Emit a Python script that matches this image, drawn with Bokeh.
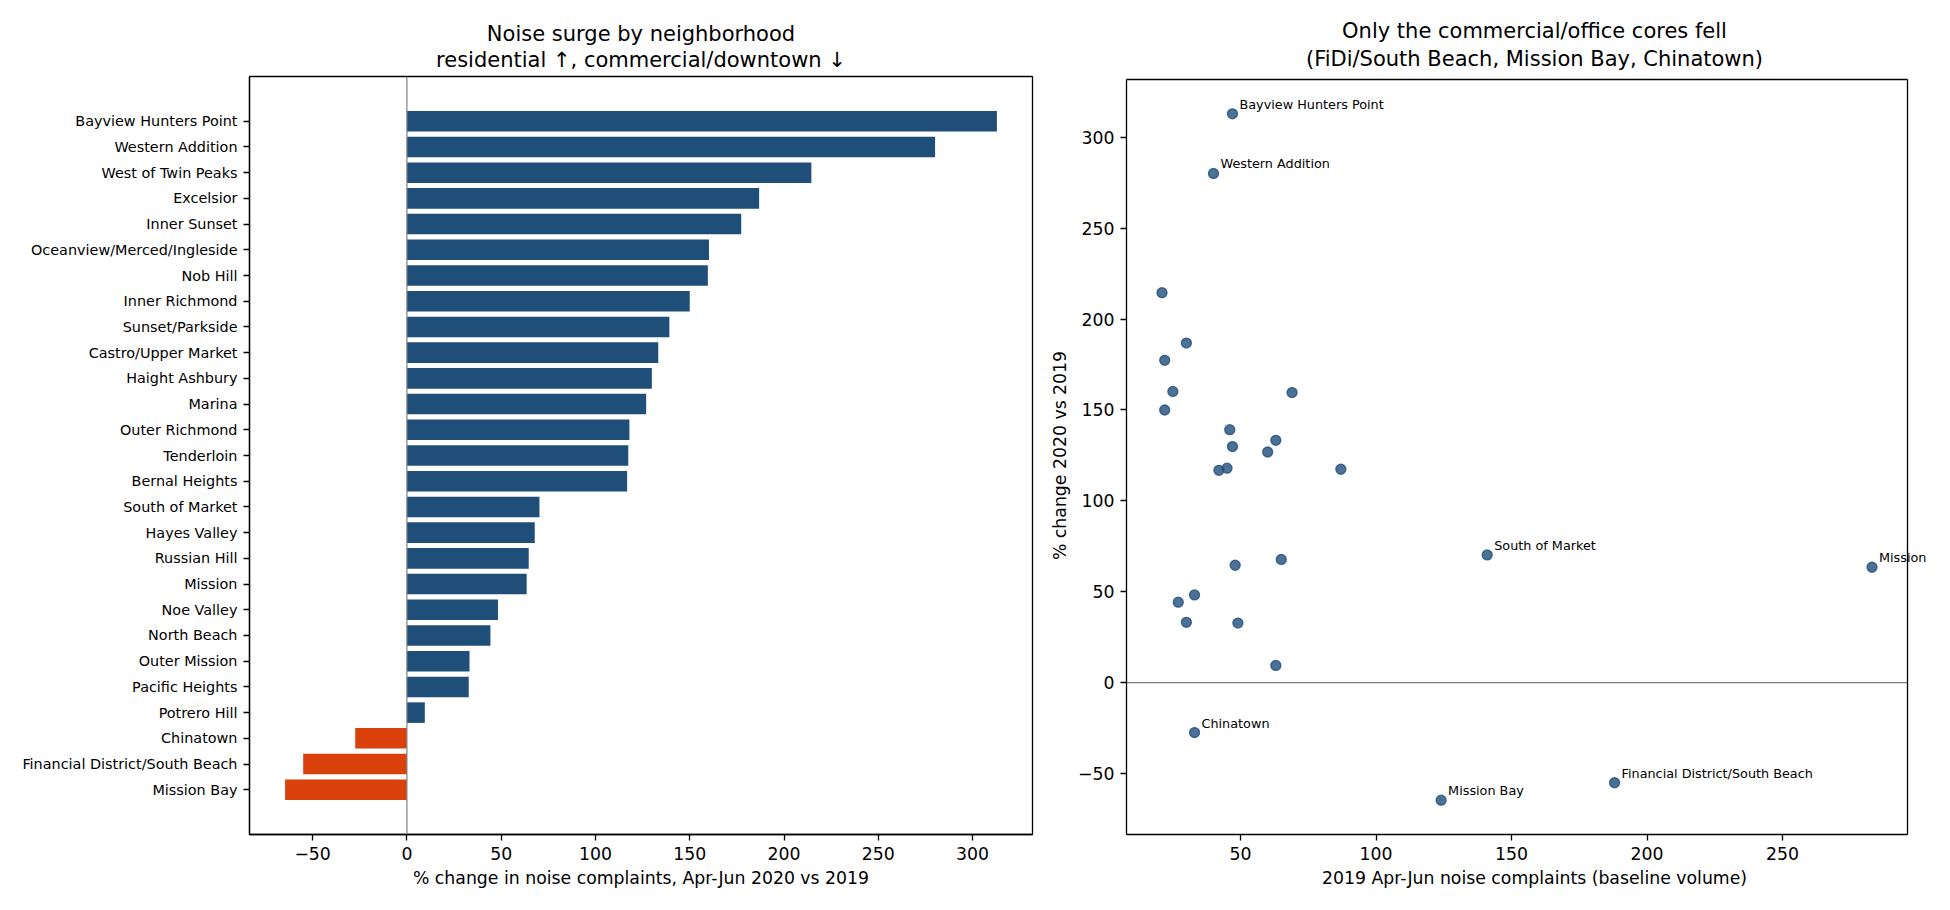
from bokeh.plotting import figure
from bokeh.models import Range1d, FixedTicker, Span, ColumnDataSource, Label, Title
from bokeh.layouts import row
from bokeh.embed import file_html
from bokeh.resources import INLINE

# ---------------- data ----------------
neighborhoods = [
    "Bayview Hunters Point", "Western Addition", "West of Twin Peaks", "Excelsior",
    "Inner Sunset", "Oceanview/Merced/Ingleside", "Nob Hill", "Inner Richmond",
    "Sunset/Parkside", "Castro/Upper Market", "Haight Ashbury", "Marina",
    "Outer Richmond", "Tenderloin", "Bernal Heights", "South of Market",
    "Hayes Valley", "Russian Hill", "Mission", "Noe Valley", "North Beach",
    "Outer Mission", "Pacific Heights", "Potrero Hill", "Chinatown",
    "Financial District/South Beach", "Mission Bay",
]
pct_change = [
    312.9, 280.1, 214.5, 186.8, 177.3, 160.2, 159.6, 150.0, 139.2, 133.3,
    129.9, 126.9, 118.0, 117.4, 116.8, 70.3, 67.8, 64.6, 63.5, 48.3, 44.3,
    33.2, 32.8, 9.5, -27.4, -55.0, -64.6,
]
baseline_2019 = [
    47, 40, 21, 30, 22, 25, 69, 22, 46, 63, 47, 60, 45, 87, 42, 141, 65, 48,
    283, 33, 27, 30, 49, 63, 33, 188, 124,
]
labeled = [
    "Bayview Hunters Point", "Western Addition", "South of Market", "Mission",
    "Chinatown", "Financial District/South Beach", "Mission Bay",
]
left_xticks = [-50, 0, 50, 100, 150, 200, 250, 300]
right_xticks = [50, 100, 150, 200, 250]
right_yticks = [-50, 0, 50, 100, 150, 200, 250, 300]

left_title = ["Noise surge by neighborhood", "residential \u2191, commercial/downtown \u2193"]
right_title = ["Only the commercial/office cores fell", "(FiDi/South Beach, Mission Bay, Chinatown)"]
left_xlabel = "% change in noise complaints, Apr-Jun 2020 vs 2019"
right_xlabel = "2019 Apr-Jun noise complaints (baseline volume)"
right_ylabel = "% change 2020 vs 2019"

# ---------------- style ----------------
FONT = "DejaVu Sans"
BLUE = "#1f4e79"
RED = "#d9400b"
TICK_FS = "17.3px"
LW = 1.3


def pad(lo, hi, frac=0.05):
    d = (hi - lo) * frac
    return lo - d, hi + d


def minus(v):
    return ("\u2212" + str(abs(v))) if v < 0 else str(v)


def style(p):
    p.outline_line_color = "black"
    p.outline_line_width = LW
    p.outline_line_alpha = 1.0
    p.xgrid.visible = False
    p.ygrid.visible = False
    p.background_fill_color = "white"
    p.border_fill_color = "white"
    for ax in p.axis:
        ax.axis_line_color = "black"
        ax.axis_line_width = LW
        ax.major_tick_line_color = "black"
        ax.major_tick_line_width = LW
        ax.major_tick_out = 6
        ax.major_tick_in = 0
        ax.minor_tick_out = 0
        ax.minor_tick_in = 0
        ax.major_label_text_font = FONT
        ax.major_label_text_font_size = TICK_FS
        ax.major_label_text_color = "black"
        ax.major_label_standoff = 6
        ax.axis_label_text_font = FONT
        ax.axis_label_text_font_size = "17.3px"
        ax.axis_label_text_font_style = "normal"
        ax.axis_label_text_color = "black"


def add_titles(p, lines, s2, s1):
    p.add_layout(Title(text=lines[1], align="center", text_font=FONT,
                       text_font_size="21px", text_font_style="normal",
                       text_color="black", standoff=s2), "above")
    p.add_layout(Title(text=lines[0], align="center", text_font=FONT,
                       text_font_size="21px", text_font_style="normal",
                       text_color="black", standoff=s1), "above")


# ---------------- left: horizontal bars ----------------
idx = list(range(len(neighborhoods)))
colors = [BLUE if v >= 0 else RED for v in pct_change]
bar_src = ColumnDataSource(dict(y=idx, right=pct_change, color=colors))

lx0, lx1 = pad(min(pct_change + [0]), max(pct_change + [0]))
ly0, ly1 = pad(-0.4, len(neighborhoods) - 1 + 0.4)

p1 = figure(width=1040, height=902, output_backend="svg", toolbar_location=None,
            x_range=Range1d(lx0, lx1), y_range=Range1d(ly1, ly0),
            min_border_left=249, min_border_right=8, min_border_top=76,
            min_border_bottom=68, title=None)
p1.hbar(y="y", left=0, right="right", height=0.8, fill_color="color",
        line_color=None, source=bar_src)
p1.add_layout(Span(location=0, dimension="height", line_color="#808080",
                   line_width=1.2))
style(p1)
p1.xaxis.ticker = FixedTicker(ticks=left_xticks)
p1.xaxis.major_label_overrides = {t: minus(t) for t in left_xticks}
p1.yaxis.ticker = FixedTicker(ticks=idx)
p1.yaxis.major_label_overrides = {i: n for i, n in zip(idx, neighborhoods)}
p1.yaxis.major_label_text_font_size = "14.4px"
p1.xaxis.axis_label = left_xlabel
add_titles(p1, left_title, 8.5, -9.5)

# ---------------- right: scatter ----------------
# Visible box: 781 x 758 px.  The drawing area reaches 35 px further right and
# 3 px higher so that the "Mission" label is not cut off at the box edge;
# the box itself is drawn from the data limits.
BOX_W, BOX_H, EXTRA_R, EXTRA_T = 781, 758, 35, 3
rx0, rx1 = pad(min(baseline_2019), max(baseline_2019))
ry0, ry1 = pad(min(pct_change), max(pct_change))
rx1_ext = rx0 + (rx1 - rx0) * (BOX_W + EXTRA_R) / BOX_W
ry1_ext = ry0 + (ry1 - ry0) * (BOX_H + EXTRA_T) / BOX_H

p2 = figure(width=902, height=902, output_backend="svg", toolbar_location=None,
            x_range=Range1d(rx0, rx1_ext), y_range=Range1d(ry0, ry1_ext),
            min_border_left=86, min_border_right=0, min_border_top=76 - EXTRA_T,
            min_border_bottom=68, title=None)
p2.segment(x0=[rx0], x1=[rx1], y0=[0], y1=[0], line_color="#808080",
           line_width=1.2)
p2.scatter(x=baseline_2019, y=pct_change, size=10, fill_color=BLUE,
           fill_alpha=0.8, line_color=BLUE, line_alpha=0.8, line_width=1.3)
style(p2)
p2.outline_line_color = None
p2.xaxis.bounds = (rx0, rx1)
p2.yaxis.bounds = (ry0, ry1)
for i, n in enumerate(neighborhoods):
    if n in labeled:
        p2.add_layout(Label(x=baseline_2019[i], y=pct_change[i], text=n,
                            x_offset=7, y_offset=9.5, text_font=FONT,
                            text_font_size="12.8px", text_baseline="alphabetic",
                            text_color="black"))
# box: top and right edges (left and bottom are the axis lines)
p2.segment(x0=[rx0, rx1], x1=[rx1, rx1], y0=[ry1, ry0], y1=[ry1, ry1],
           line_color="black", line_width=LW, level="overlay")
p2.xaxis.ticker = FixedTicker(ticks=right_xticks)
p2.yaxis.ticker = FixedTicker(ticks=right_yticks)
p2.yaxis.major_label_overrides = {t: minus(t) for t in right_yticks}
p2.xaxis.axis_label = right_xlabel
p2.yaxis.axis_label = right_ylabel
add_titles(p2, right_title, 8.5 + EXTRA_T, -9.5)

layout = row(p1, p2)
open("out.html", "w").write(file_html(layout, INLINE))
